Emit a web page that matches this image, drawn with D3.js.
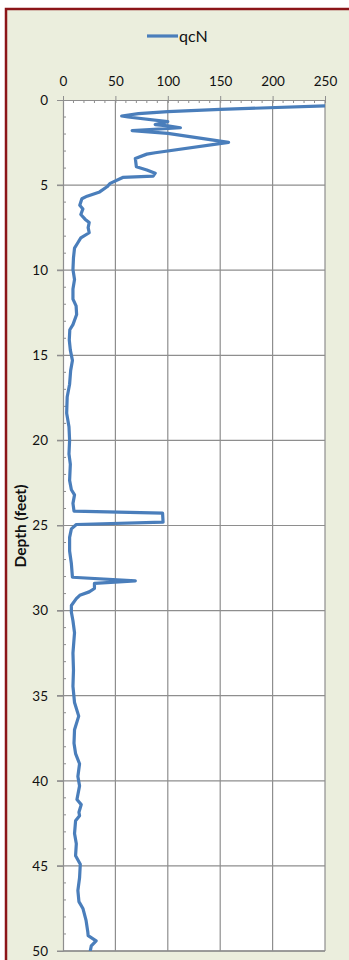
<!DOCTYPE html>
<html>
<head>
<meta charset="utf-8">
<script src="https://cdn.jsdelivr.net/npm/d3@7"></script>
<style>
  body { margin: 0; background: #ffffff; }
  text { font-family: Lato, "Open Sans", sans-serif; }
</style>
</head>
<body>
<svg id="chart" width="349" height="960"></svg>
<script>
// CPT profile: normalized cone resistance qcN against depth
const depthFt = [
  0.35, 0.55, 0.68, 0.80, 0.94, 1.00, 1.27, 1.45, 1.52, 1.63, 1.80, 1.96, 2.49,
  3.10, 3.18, 3.43, 3.92, 4.11, 4.30, 4.47, 4.55, 4.90, 5.10, 5.40, 5.65, 5.80,
  6.18, 6.40, 6.73, 7.00, 7.20, 7.50, 7.80, 8.10, 8.40, 8.70, 9.27, 9.96, 10.55,
  11.10, 11.70, 12.10, 12.60, 13.20, 13.50, 14.10, 14.70, 15.30, 15.90, 16.70,
  17.45, 18.40, 19.20, 20.00, 20.80, 21.40, 22.35, 22.90, 23.20, 23.70, 24.15,
  24.27, 24.80, 24.94, 25.20, 25.70, 26.50, 27.25, 28.04, 28.25, 28.40, 28.70,
  28.90, 29.10, 29.30, 29.70, 30.10, 30.60, 31.30, 32.50, 33.50, 34.45, 35.40,
  36.20, 37.00, 37.80, 38.40, 39.00, 39.75, 40.30, 41.10, 41.40, 41.85, 42.05,
  42.35, 43.10, 43.70, 44.40, 44.90, 45.70, 46.45, 47.10, 47.50, 48.20, 48.90,
  49.10, 49.40, 49.70, 50.00
];
const qcN = [
  250, 150, 100, 72, 56, 62, 100, 88, 100, 112, 66, 100, 158,
  88, 80, 69, 70, 80, 88, 86, 57, 45, 42, 35, 23, 18,
  16, 19, 17, 21, 25, 24, 25, 17, 14, 11, 10, 9.5, 11,
  9.5, 9.5, 12.5, 13, 9.5, 6.5, 6, 7, 9, 7.3, 6.3,
  4, 3.5, 5.7, 6.3, 5.7, 7, 6.3, 8, 11, 9.5, 10.5,
  95, 95.5, 12.7, 8, 6.3, 6.3, 8, 9, 69, 30, 30,
  25, 16, 12.7, 8, 8, 9.5, 11, 9.5, 10, 9.5, 11,
  15, 11, 10.5, 12, 15.8, 14.2, 15.8, 13.3, 17.4, 15.2, 15.8,
  12, 11, 12.7, 12, 16.5, 15.8, 14.2, 15.2, 19, 22, 23.7,
  24, 31.6, 27, 26
];
const xTickValues = [0, 50, 100, 150, 200, 250];
const yTickValues = [0, 5, 10, 15, 20, 25, 30, 35, 40, 45, 50];
const seriesName = "qcN";
const yTitle = "Depth (feet)";

const svg = d3.select("#chart");
const plot = { left: 63, top: 100, right: 325, bottom: 951 };

const x = d3.scaleLinear().domain([0, 250]).range([plot.left, plot.right]);
const y = d3.scaleLinear().domain([0, 50]).range([plot.top, plot.bottom]);

// chart area with dark red frame
svg.append("rect")
  .attr("x", 6).attr("y", 9).attr("width", 400).attr("height", 1000)
  .attr("fill", "#EBEEDD").attr("stroke", "#8B1518").attr("stroke-width", 2.5);

// plot area
svg.append("rect")
  .attr("x", plot.left).attr("y", plot.top)
  .attr("width", plot.right - plot.left).attr("height", plot.bottom - plot.top)
  .attr("fill", "#ffffff");

const gridColor = "#8E8E8E";
// vertical gridlines
svg.append("g").selectAll("line").data(xTickValues.slice(1)).join("line")
  .attr("x1", d => x(d)).attr("x2", d => x(d))
  .attr("y1", plot.top).attr("y2", plot.bottom)
  .attr("stroke", gridColor).attr("stroke-width", 1.2);
// horizontal gridlines (reach out past the axis as major ticks)
svg.append("g").selectAll("line").data(yTickValues.slice(1)).join("line")
  .attr("x1", plot.left - 6).attr("x2", plot.right)
  .attr("y1", d => y(d)).attr("y2", d => y(d))
  .attr("stroke", gridColor).attr("stroke-width", 1.2);

// minor ticks
svg.append("g").selectAll("line").data(d3.range(0, 251, 10).filter(v => v % 50)).join("line")
  .attr("x1", d => x(d)).attr("x2", d => x(d))
  .attr("y1", plot.top).attr("y2", plot.top + 3)
  .attr("stroke", gridColor).attr("stroke-width", 1);
svg.append("g").selectAll("line").data(d3.range(1, 50).filter(v => v % 5)).join("line")
  .attr("x1", plot.left).attr("x2", plot.left + 3)
  .attr("y1", d => y(d)).attr("y2", d => y(d))
  .attr("stroke", gridColor).attr("stroke-width", 1);

// top value axis
const xAxis = svg.append("g")
  .attr("transform", `translate(0,${plot.top})`)
  .call(d3.axisTop(x).tickValues(xTickValues).tickSizeInner(4).tickSizeOuter(0).tickPadding(10));
xAxis.select(".domain").attr("stroke", gridColor).attr("stroke-width", 1.2);
xAxis.selectAll(".tick line").attr("stroke", gridColor).attr("y2", -4).attr("y1", 3);
xAxis.selectAll(".tick text").attr("font-size", 13.5).attr("fill", "#111");

// left depth axis
const yAxis = svg.append("g")
  .attr("transform", `translate(${plot.left},0)`)
  .call(d3.axisLeft(y).tickValues(yTickValues).tickSizeInner(6).tickSizeOuter(0).tickPadding(9));
yAxis.select(".domain").attr("stroke", gridColor).attr("stroke-width", 1.2);
yAxis.selectAll(".tick line").attr("stroke", gridColor);
yAxis.selectAll(".tick text").attr("font-size", 13.5).attr("fill", "#111");

// plot area frame on the bottom
svg.append("line").attr("x1", plot.left).attr("x2", plot.right)
  .attr("y1", plot.bottom).attr("y2", plot.bottom)
  .attr("stroke", gridColor).attr("stroke-width", 1.5);

// clip the series to the plot area
svg.append("clipPath").attr("id", "plotClip")
  .append("rect")
  .attr("x", plot.left).attr("y", plot.top)
  .attr("width", plot.right - plot.left).attr("height", plot.bottom - plot.top);

const points = depthFt.map((d, i) => ({ depth: d, value: qcN[i] }));
const line = d3.line().x(p => x(p.value)).y(p => y(p.depth));

svg.append("path")
  .datum(points)
  .attr("clip-path", "url(#plotClip)")
  .attr("d", line)
  .attr("fill", "none")
  .attr("stroke", "#4A7EBB")
  .attr("stroke-width", 3.2)
  .attr("stroke-linejoin", "round")
  .attr("stroke-linecap", "round");

// legend
const legend = svg.append("g");
legend.append("line")
  .attr("x1", 147).attr("x2", 178).attr("y1", 36).attr("y2", 36)
  .attr("stroke", "#4A7EBB").attr("stroke-width", 3.2);
legend.append("text")
  .attr("x", 179).attr("y", 41.5)
  .attr("font-size", 16).attr("fill", "#111")
  .text(seriesName);

// depth axis title
svg.append("text")
  .attr("transform", "translate(26,526) rotate(-90)")
  .attr("text-anchor", "middle")
  .attr("font-size", 15.5).attr("font-weight", "bold").attr("fill", "#111")
  .text(yTitle);
</script>
</body>
</html>
